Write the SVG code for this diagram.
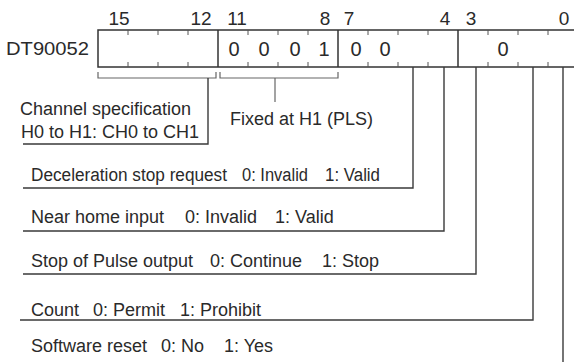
<svg xmlns="http://www.w3.org/2000/svg" width="574" height="362" viewBox="0 0 574 362">
<style>
text{font-family:"Liberation Sans",Arial,sans-serif;font-size:18px;fill:#2a2a2a}
.num{text-anchor:middle;font-size:19px}
.dig{text-anchor:middle;font-size:20px}
.box{fill:none;stroke:#333;stroke-width:1.5}
.tick{stroke:#555;stroke-width:1}
.br{fill:none;stroke:#666;stroke-width:1.2}
.ln{fill:none;stroke:#3a3a3a;stroke-width:1.4}
</style>
<rect width="574" height="362" fill="#fff"/>
<g id="register">
<text x="6" y="55" textLength="83" lengthAdjust="spacingAndGlyphs">DT90052</text>
<text class="num" x="119" y="25">15</text>
<text class="num" x="201" y="25">12</text>
<text class="num" x="237" y="25">11</text>
<text class="num" x="325" y="25">8</text>
<text class="num" x="349" y="25">7</text>
<text class="num" x="445" y="25">4</text>
<text class="num" x="471" y="25">3</text>
<text class="num" x="564" y="25">0</text>
<rect class="box" x="98" y="30" width="480" height="37"/>
<path class="box" d="M218 30V67M338 30V67M458 30V67"/>
<path class="tick" d="M128 30v5M158 30v5M188 30v5M248 30v5M278 30v5M308 30v5M368 30v5M398 30v5M428 30v5M488 30v5M518 30v5M548 30v5M128 67v-5M158 67v-5M188 67v-5M248 67v-5M278 67v-5M308 67v-5M368 67v-5M398 67v-5M428 67v-5M488 67v-5M518 67v-5M548 67v-5"/>
<text class="dig" x="234" y="56">0</text>
<text class="dig" x="264" y="56">0</text>
<text class="dig" x="295" y="56">0</text>
<text class="dig" x="324" y="56">1</text>
<text class="dig" x="356" y="56">0</text>
<text class="dig" x="385" y="56">0</text>
<text class="dig" x="503" y="56">0</text>
</g>
<g id="connectors">
<path class="br" d="M98 72V78H216V72M220 72V78H338V72"/>
<path class="ln" d="M208 78V144H23"/>
<path class="br" d="M275 78V102"/>
<path class="ln" d="M413 67V188H23"/>
<path class="ln" d="M444 67V231H23"/>
<path class="ln" d="M476 67V274H23"/>
<path class="ln" d="M533 67V320H20"/>
<path class="ln" d="M563 67V365"/>
</g>
<g id="channel">
<text x="20" y="115">Channel specification</text>
<text x="21" y="138">H0 to H1: CH0 to CH1</text>
</g>
<g id="fixed">
<text x="230" y="125">Fixed at H1 (PLS)</text>
</g>
<g id="decel">
<text y="181"><tspan x="31" textLength="196" lengthAdjust="spacingAndGlyphs">Deceleration stop request</tspan><tspan x="242" textLength="66" lengthAdjust="spacingAndGlyphs">0: Invalid</tspan><tspan x="325" textLength="55" lengthAdjust="spacingAndGlyphs">1: Valid</tspan></text>
</g>
<g id="nearhome">
<text y="223"><tspan x="31">Near home input</tspan><tspan x="185">0: Invalid</tspan><tspan x="275">1: Valid</tspan></text>
</g>
<g id="stop">
<text y="267"><tspan x="31">Stop of Pulse output</tspan><tspan x="210">0: Continue</tspan><tspan x="322">1: Stop</tspan></text>
</g>
<g id="count">
<text y="316"><tspan x="31">Count</tspan><tspan x="93">0: Permit</tspan><tspan x="180">1: Prohibit</tspan></text>
</g>
<g id="reset">
<text y="352"><tspan x="31">Software reset</tspan><tspan x="161">0: No</tspan><tspan x="224">1: Yes</tspan></text>
</g>
</svg>
